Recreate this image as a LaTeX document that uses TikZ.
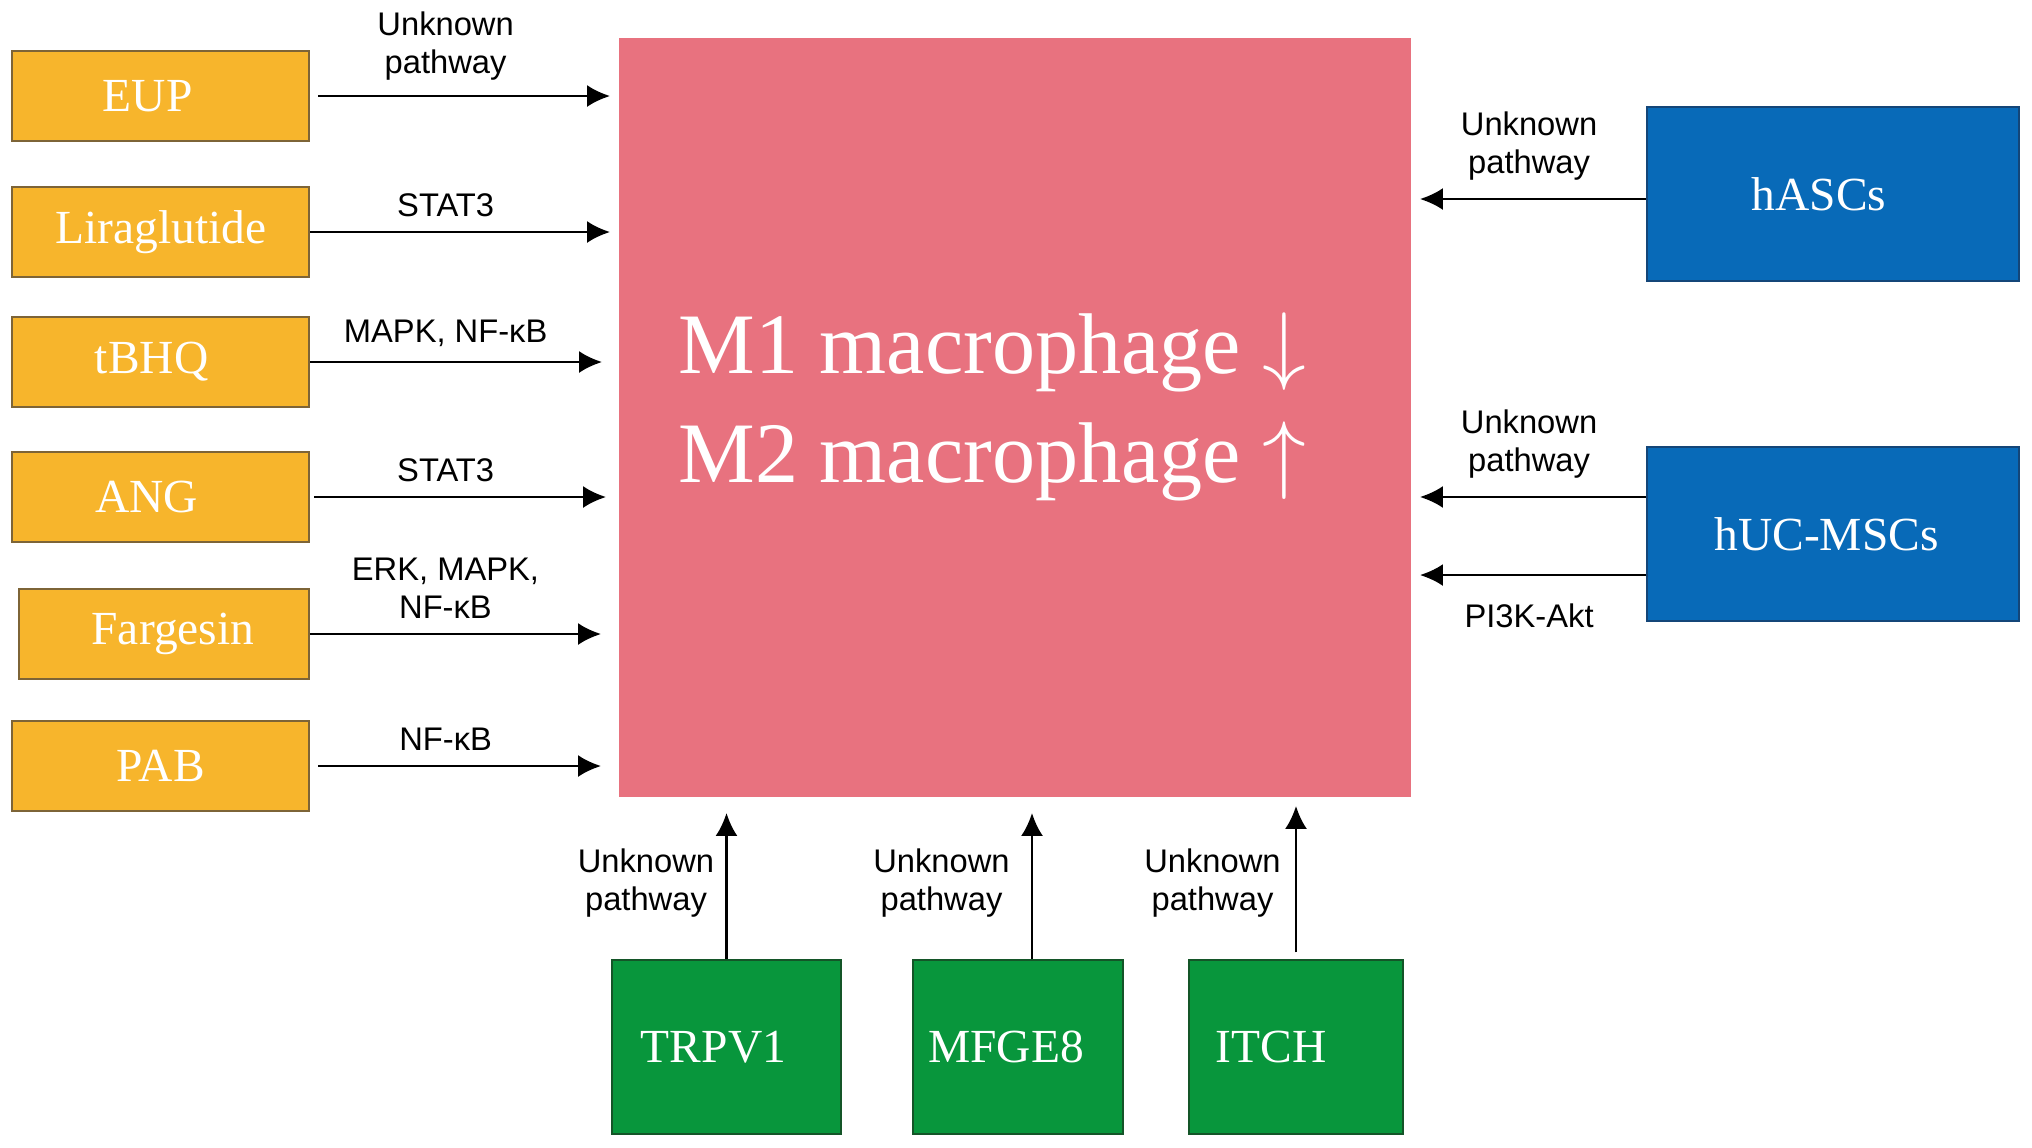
\documentclass[tikz,border=0pt]{standalone}
\usepackage{fontspec}
\setmainfont{Liberation Serif}
\newfontfamily\lblfont{Liberation Sans}
\usetikzlibrary{positioning}
\usetikzlibrary{arrows.meta}
\definecolor{drugfill}{RGB}{247,181,44}
\definecolor{drugline}{RGB}{125,100,55}
\definecolor{macfill}{RGB}{232,114,127}
\definecolor{cellfill}{RGB}{8,106,184}
\definecolor{cellline}{RGB}{20,70,120}
\definecolor{genefill}{RGB}{8,150,60}
\definecolor{geneline}{RGB}{20,85,40}

\begin{document}
\begin{tikzpicture}[x=0.01cm,y=-0.01cm,
box/.style={inner sep=0pt,text=white,font=\fontsize{13.5}{15}\selectfont},
nudge/.style={execute at end node={\hspace*{#1}}},
drug/.style={box,draw=drugline,line width=0.5pt,fill=drugfill,minimum width=2.97cm,minimum height=0.9cm},
cell/.style={box,draw=cellline,line width=0.4pt,fill=cellfill,minimum width=3.72cm,minimum height=1.74cm},
gene/.style={box,draw=geneline,line width=0.4pt,fill=genefill,minimum height=1.74cm},
big/.style={inner sep=0pt,text=white,font=\fontsize{24.5}{31}\selectfont},
pw/.style={-{Latex[length=2.3mm,width=2.2mm]},line width=0.75pt,black},
lbl/.style={font=\lblfont\fontsize{9.3}{10.8}\selectfont,align=center,inner sep=1pt,black}]
\useasboundingbox(0,0)rectangle(2032,1147);

\node[fill=macfill,minimum width=7.92cm,minimum height=7.59cm,inner sep=0pt](Mac)at(1015,417.5){};
\node[big,anchor=base west](M1)at(678,373){M1 macrophage $\downarrow$};
\node[big,anchor=base west](M2)at(678,482){M2 macrophage $\uparrow$};

%% drugs on the left
\node[drug,nudge=2.6mm](EUP)at(160.7,96){EUP};
\node[drug](Lira)at(160.7,232){Liraglutide};
\node[drug,nudge=1.8mm](tBHQ)at(160.7,362){tBHQ};
\node[drug,nudge=2.8mm](ANG)at(160.7,497){ANG};
\node[drug,nudge=-1.8mm,minimum width=2.90cm](Farg)at(163.9,634){Fargesin};
\node[drug](PAB)at(160.7,766){PAB};

\draw[pw,shorten <=0.8mm,shorten >=0.8mm](EUP)--(EUP-|Mac.west)
node[lbl,above=3pt,pos=0.44]{Unknown\\pathway};
\draw[pw,shorten >=0.8mm](Lira)--(Lira-|Mac.west)
node[lbl,above=3pt,pos=0.44]{STAT3};
\draw[pw,shorten >=1.6mm](tBHQ)--(tBHQ-|Mac.west)
node[lbl,above=3pt,pos=0.44]{MAPK, NF-κB};
\draw[pw,shorten <=0.4mm,shorten >=1.2mm](ANG)--(ANG-|Mac.west)
node[lbl,above=3pt,pos=0.44]{STAT3};
\draw[pw,shorten >=1.7mm](Farg)--(Farg-|Mac.west)
node[lbl,above=3pt,pos=0.44]{ERK, MAPK,\\NF-κB};
\draw[pw,shorten <=0.8mm,shorten >=1.7mm](PAB)--(PAB-|Mac.west)
node[lbl,above=3pt,pos=0.44]{NF-κB};

%% stem cells on the right
\node[cell,nudge=2.8mm](hASC)at(1833,194){hASCs};
\node[cell,nudge=1.3mm](hUC)at(1833,534){hUC-MSCs};

\draw[pw,shorten >=0.8mm]([yshift=-0.5mm]hASC.west)coordinate(hA)--(hA-|Mac.east)
node[lbl,above=4pt,midway]{Unknown\\pathway};
\draw[pw,shorten >=0.8mm]([yshift=3.7mm]hUC.west)coordinate(hU1)--(hU1-|Mac.east)
node[lbl,above=4pt,midway]{Unknown\\pathway};
\draw[pw,shorten >=0.8mm]([yshift=-4.1mm]hUC.west)coordinate(hU2)--(hU2-|Mac.east)
node[lbl,below=6.7pt,midway]{PI3K-Akt};

%% genes at the bottom
\node[gene,nudge=2.6mm,minimum width=2.29cm](TRPV)at(726.5,1047){TRPV1};
\node[gene,nudge=2.4mm,minimum width=2.10cm](MFGE)at(1018,1047){MFGE8};
\node[gene,nudge=5mm,minimum width=2.14cm](ITCH)at(1296,1047){ITCH};

\draw[pw,shorten >=1.5mm](TRPV.north)--(TRPV.north|-Mac.south)
node[lbl,left=0.75mm,pos=0.47]{Unknown\\pathway};
\draw[pw,shorten >=1.5mm]([xshift=1.4mm]MFGE.north)coordinate(MF)--(MF|-Mac.south)
node[lbl,left=1.75mm,pos=0.47]{Unknown\\pathway};
\draw[pw,shorten <=0.7mm,shorten >=0.8mm](ITCH.north)--(ITCH.north|-Mac.south)
node[lbl,left=1.05mm,pos=0.47]{Unknown\\pathway};
\end{tikzpicture}
\end{document}
